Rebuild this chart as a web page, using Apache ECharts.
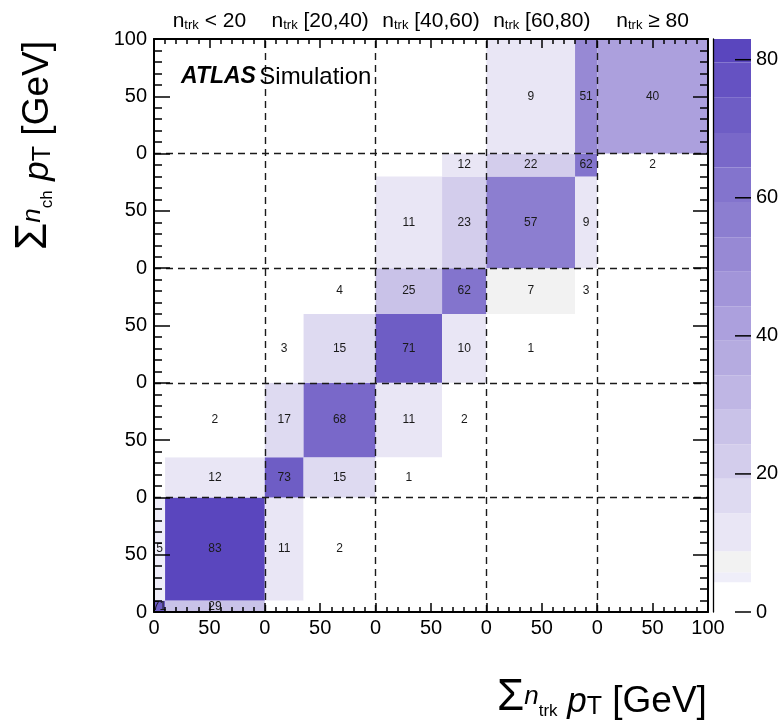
<!DOCTYPE html>
<html><head><meta charset="utf-8">
<script src="https://cdn.jsdelivr.net/npm/echarts/dist/echarts.min.js"></script>
<style>html,body{margin:0;padding:0;background:#fff}#c{width:784px;height:726px}</style>
</head><body><div id="c"></div>
<script>
// ---- data ----
const binEdges = [0, 10, 100, 135, 200, 260, 300, 380, 400, 500];
const blockNames = ['< 20', '[20,40)', '[40,60)', '[60,80)', '\u2265 80'];
const blockBoundaries = [100, 200, 300, 400];
// each row (y bin): [x bin index, value]
const row0 = [[0, 71], [1, 29]];
const row1 = [[0, 5], [1, 83], [2, 11], [3, 2]];
const row2 = [[1, 12], [2, 73], [3, 15], [4, 1]];
const row3 = [[1, 2], [2, 17], [3, 68], [4, 11], [5, 2]];
const row4 = [[2, 3], [3, 15], [4, 71], [5, 10], [6, 1]];
const row5 = [[3, 4], [4, 25], [5, 62], [6, 7], [7, 3]];
const row6 = [[4, 11], [5, 23], [6, 57], [7, 9]];
const row7 = [[5, 12], [6, 22], [7, 62], [8, 2]];
const row8 = [[6, 9], [7, 51], [8, 40]];
const rows = [row0, row1, row2, row3, row4, row5, row6, row7, row8];
const colorLevels = [0, 4.3, 5.75, 8.8, 14.3, 19.3, 24.3, 29.3, 34.3, 39.3, 44.3, 49.3, 54.3, 59.4, 64.4, 69.4, 74.5, 79.6];
const colorBands = ['#ffffff', '#efeef9', '#f2f2f2', '#e9e6f5', '#dedaf1', '#d3cdec', '#c9c2e8', '#bfb6e4',
  '#b5abe0', '#aca0dd', '#a295d9', '#9789d4', '#8c7ed0', '#8374cd', '#7968c9', '#6e5dc5', '#6552c2', '#5a46be'];
const zMax = 83;
const zTicks = [0, 20, 40, 60, 80];

// ---- build ----
const FONT = 'Liberation Sans, Arial, Helvetica, sans-serif';
function colorFor(v) {
  let idx = 0;
  for (let i = 0; i < colorLevels.length; i++) if (v >= colorLevels[i]) idx = i;
  return colorBands[idx];
}
const cellData = [];
rows.forEach((row, r) => row.forEach(([c, v]) => {
  cellData.push([binEdges[c], binEdges[c + 1], binEdges[r], binEdges[r + 1], v]);
}));
const barData = colorLevels.map((lo, i) => [lo, i + 1 < colorLevels.length ? colorLevels[i + 1] : zMax, i]);

const chart = echarts.init(document.getElementById('c'), null, {renderer: 'canvas'});
const axisBase = {
  type: 'value', min: 0, max: 500, interval: 50, z: 5,
  axisLine: {show: true, onZero: false, lineStyle: {color: '#000', width: 2}},
  splitLine: {show: false}, minorSplitLine: {show: false}
};
const sub = {fontFamily: FONT, color: '#000'};
function titleRich() {
  const base = {fontFamily: FONT, color: '#000', verticalAlign: 'bottom'};
  return {
    S: Object.assign({fontSize: 44, lineHeight: 61}, base),
    n: Object.assign({fontSize: 26, lineHeight: 26, padding: [0, 0, 10, 0], fontStyle: 'italic'}, base),
    t: Object.assign({fontSize: 17, lineHeight: 17}, base),
    p: Object.assign({fontSize: 35, lineHeight: 54, fontStyle: 'italic'}, base),
    T: Object.assign({fontSize: 25, lineHeight: 24}, base),
    g: Object.assign({fontSize: 37, lineHeight: 56}, base)
  };
}
const option = {
  animation: false,
  backgroundColor: '#fff',
  grid: [
    {left: 154, top: 39, width: 554, height: 573, outerBoundsMode: 'none'},
    {left: 713, top: 39, width: 38, height: 573, outerBoundsMode: 'none'}
  ],
  xAxis: [
    Object.assign({}, axisBase, {
      gridIndex: 0, position: 'bottom',
      axisTick: {inside: true, length: 9, lineStyle: {color: '#000', width: 1.5}},
      minorTick: {show: true, splitNumber: 5, length: 5, lineStyle: {color: '#000', width: 1.5}},
      axisLabel: {fontSize: 20, color: '#000', fontFamily: FONT, margin: 6,
        formatter: v => (v === 500 ? '100' : String(v % 100))}
    }),
    Object.assign({}, axisBase, {
      gridIndex: 0, position: 'top',
      axisTick: {inside: true, length: 9, lineStyle: {color: '#000', width: 1.5}},
      minorTick: {show: true, splitNumber: 5, length: 5, lineStyle: {color: '#000', width: 1.5}},
      axisLabel: {
        show: true, margin: 7, color: '#000', fontFamily: FONT,
        formatter: v => (v % 100 === 50 ? '{n|n}{s|trk}{n| ' + blockNames[(v - 50) / 100] + '}' : ''),
        rich: {
          n: Object.assign({fontSize: 21, lineHeight: 30, verticalAlign: 'bottom'}, sub),
          s: Object.assign({fontSize: 13, lineHeight: 13, verticalAlign: 'bottom'}, sub)
        }
      }
    }),
    {gridIndex: 1, type: 'value', min: 0, max: 1, show: false}
  ],
  yAxis: [
    Object.assign({}, axisBase, {
      gridIndex: 0, position: 'left',
      axisTick: {inside: true, length: 16, lineStyle: {color: '#000', width: 1.5}},
      minorTick: {show: true, splitNumber: 5, length: 8, lineStyle: {color: '#000', width: 1.5}},
      axisLabel: {fontSize: 20, color: '#000', fontFamily: FONT, margin: 7,
        formatter: v => (v === 500 ? '100' : String(v % 100))}
    }),
    Object.assign({}, axisBase, {
      gridIndex: 0, position: 'right',
      axisTick: {inside: true, length: 15, lineStyle: {color: '#000', width: 1.5}},
      minorTick: {show: true, splitNumber: 5, length: 8, lineStyle: {color: '#000', width: 1.5}},
      axisLabel: {show: false}
    }),
    {
      gridIndex: 1, type: 'value', position: 'right', min: 0, max: zMax, z: 10,
      axisLine: {show: true, lineStyle: {color: '#000', width: 1.3}},
      axisTick: {show: false},
      axisLabel: {fontSize: 20, color: '#000', fontFamily: FONT, margin: 5, customValues: zTicks},
      splitLine: {show: false}
    }
  ],
  series: [
    {
      type: 'custom', xAxisIndex: 0, yAxisIndex: 0, data: cellData, z: 1,
      encode: {x: [0, 1], y: [2, 3]},
      renderItem: (params, api) => {
        const p0 = api.coord([api.value(0), api.value(2)]);
        const p1 = api.coord([api.value(1), api.value(3)]);
        const v = api.value(4);
        return {type: 'group', children: [
          {type: 'rect', shape: {x: p0[0], y: p1[1], width: p1[0] - p0[0], height: p0[1] - p1[1]},
            style: {fill: colorFor(v)}},
          {type: 'text', x: (p0[0] + p1[0]) / 2, y: (p0[1] + p1[1]) / 2, z2: 10,
            style: {text: String(v), fill: '#1a1a1a', font: '12px ' + FONT, align: 'center', verticalAlign: 'middle'}}
        ]};
      }
    },
    {
      type: 'custom', xAxisIndex: 2, yAxisIndex: 2, data: barData, z: 1,
      encode: {y: [0, 1]},
      renderItem: (params, api) => {
        const p0 = api.coord([0, api.value(0)]);
        const p1 = api.coord([1, api.value(1)]);
        return {type: 'rect', shape: {x: p0[0], y: p1[1], width: p1[0] - p0[0], height: p0[1] - p1[1]},
          style: {fill: colorBands[api.value(2)]}};
      }
    },
    {
      // colour-bar scale ticks, placed through the colour-bar axis
      type: 'custom', xAxisIndex: 2, yAxisIndex: 2, data: zTicks.map(v => [v]), z: 12,
      encode: {y: 0},
      renderItem: (params, api) => {
        const p = api.coord([1, api.value(0)]);
        return {type: 'line', shape: {x1: p[0] - 16, y1: p[1], x2: p[0], y2: p[1]},
          style: {stroke: '#000', lineWidth: 1.5}};
      }
    },
    {
      type: 'line', xAxisIndex: 0, yAxisIndex: 0, data: [], z: 4,
      markLine: {
        silent: true, symbol: 'none', label: {show: false}, animation: false,
        lineStyle: {type: [7, 5], color: '#1a1a1a', width: 1.4},
        data: blockBoundaries.map(b => ({xAxis: b})).concat(blockBoundaries.map(b => ({yAxis: b})))
      }
    }
  ],
  graphic: [
    {type: 'text', left: 181, top: 65, z: 10, style: {
      text: '{a|ATLAS} {b|Simulation}', rich: {
        a: {fontSize: 23, fontWeight: 'bold', fontStyle: 'italic', fontFamily: FONT, fill: '#000'},
        b: {fontSize: 24, fontFamily: FONT, fill: '#000'}
      }}},
    {type: 'text', x: 497, y: 720, z: 10, style: {
      text: '{S|\u03a3}{n|n}{t|trk}{p| p}{T|T}{g| [GeV]}', align: 'left', verticalAlign: 'bottom',
      rich: titleRich()}},
    {type: 'text', x: 56, y: 250, rotation: Math.PI / 2, z: 10, style: {
      text: '{S|\u03a3}{n|n}{t|ch}{p| p}{T|T}{g| [GeV]}', align: 'left', verticalAlign: 'bottom',
      rich: titleRich()}}
  ]
};
chart.setOption(option);
</script>
</body></html>
